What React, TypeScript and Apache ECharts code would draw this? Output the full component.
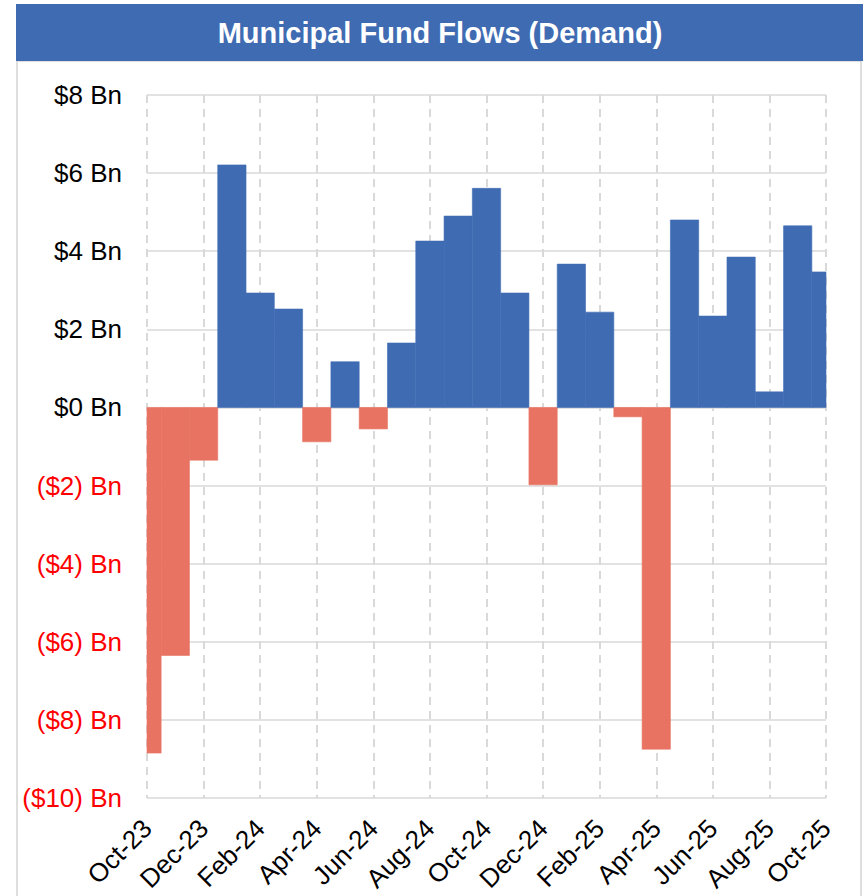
import React, { useEffect, useRef } from "react";
import * as echarts from "echarts";

const months = [
  "Oct-23", "Nov-23", "Dec-23", "Jan-24", "Feb-24", "Mar-24", "Apr-24", "May-24", "Jun-24",
  "Jul-24", "Aug-24", "Sep-24", "Oct-24", "Nov-24", "Dec-24", "Jan-25", "Feb-25", "Mar-25",
  "Apr-25", "May-25", "Jun-25", "Jul-25", "Aug-25", "Sep-25", "Oct-25",
];
// Net flows, $ billions
const flows = [
  -8.85, -6.35, -1.35, 6.21, 2.93, 2.52, -0.88, 1.17, -0.55,
  1.65, 4.26, 4.9, 5.61, 2.93, -1.98, 3.67, 2.44, -0.24,
  -8.75, 4.8, 2.34, 3.85, 0.4, 4.65, 3.47,
];
const yTicks = { min: -10, max: 8, interval: 2 };
const title = "Municipal Fund Flows (Demand)";

const BLUE = "#3F6BB3";
const RED = "#E87362";
const GRID = "#D9D9D9";
const FONT = "'Liberation Sans', Arial, sans-serif";

export default function App() {
  const ref = useRef<HTMLDivElement>(null);
  useEffect(() => {
    if (!ref.current) return;
    const chart = echarts.init(ref.current, undefined, { renderer: "svg" });
    chart.setOption({
      animation: false,
      backgroundColor: "#ffffff",
      textStyle: { fontFamily: FONT },
      graphic: [
        {
          type: "rect",
          shape: { x: 17, y: 61, width: 844, height: 850 },
          style: { fill: "none", stroke: "#D4D4D4", lineWidth: 1.5 },
          silent: true,
        },
        {
          type: "rect",
          shape: { x: 16, y: 4, width: 847, height: 57 },
          style: { fill: BLUE },
          silent: true,
        },
        {
          type: "text",
          x: 440,
          y: 33,
          style: {
            text: title,
            fill: "#ffffff",
            font: `bold 29px ${FONT}`,
            textAlign: "center",
            textVerticalAlign: "middle",
          },
          silent: true,
        },
      ],
      grid: { left: 147, right: 40, top: 95, bottom: 98, containLabel: false },
      xAxis: {
        type: "category",
        data: months,
        boundaryGap: false,
        axisLine: { show: false },
        axisTick: { show: false },
        axisLabel: {
          interval: 1,
          rotate: 45,
          margin: 26,
          fontSize: 26,
          color: "#000000",
          fontFamily: FONT,
        },
        splitLine: {
          show: true,
          interval: 1,
          lineStyle: { color: GRID, width: 2, type: [8, 6] },
        },
      },
      yAxis: {
        type: "value",
        min: yTicks.min,
        max: yTicks.max,
        interval: yTicks.interval,
        axisLine: { show: false },
        axisTick: { show: false },
        axisLabel: {
          margin: 25,
          fontSize: 26,
          fontFamily: FONT,
          formatter: (v: number) => (v < 0 ? `($${-v}) Bn` : `$${v} Bn`),
          color: (v: any) => (Number(v) < 0 ? "#FF0000" : "#000000"),
        },
        splitLine: { show: true, lineStyle: { color: GRID, width: 1.5 } },
      },
      series: [
        {
          type: "custom",
          data: flows.map((v, i) => [i, v]),
          encode: { x: 0, y: 1 },
          renderItem: (params: any, api: any) => {
            const i = api.value(0);
            const v = api.value(1);
            const base = api.coord([i, 0]);
            const top = api.coord([i, v]);
            const w = api.size([1, 0])[0];
            const cs = params.coordSys;
            const rect = echarts.graphic.clipRectByRect(
              {
                x: base[0] - w / 2,
                y: Math.min(base[1], top[1]),
                width: w,
                height: Math.abs(top[1] - base[1]),
              },
              { x: cs.x, y: cs.y, width: cs.width, height: cs.height }
            );
            if (!rect) return null;
            const c = v < 0 ? RED : BLUE;
            return {
              type: "rect",
              shape: rect,
              style: { fill: c, stroke: c, lineWidth: 0.6 },
            };
          },
        },
      ],
    });
    return () => chart.dispose();
  }, []);
  return (
    <div
      ref={ref}
      style={{ position: "fixed", left: 0, top: 0, width: 866, height: 896 }}
    />
  );
}
